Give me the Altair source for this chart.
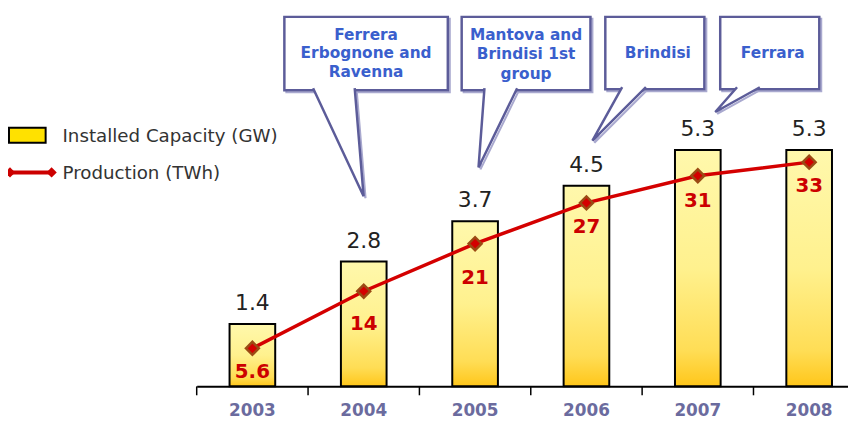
import altair as alt
import pandas as pd

# ---------------- data ----------------
years = ["2003", "2004", "2005", "2006", "2007", "2008"]
capacity_gw = [1.4, 2.8, 3.7, 4.5, 5.3, 5.3]
production_twh = [5.6, 14, 21, 27, 31, 33]
capacity_labels = ["1.4", "2.8", "3.7", "4.5", "5.3", "5.3"]
production_labels = ["5.6", "14", "21", "27", "31", "33"]

legend_labels = ["Installed Capacity (GW)", "Production (TWh)"]
callout_texts = [
    ["Ferrera", "Erbognone and", "Ravenna"],
    ["Mantova and", "Brindisi 1st", "group"],
    ["Brindisi"],
    ["Ferrara"],
]

# ---------------- layout (pixels inside the plot area) ----------------
W, H = 840, 380
X_RANGE = [190.5, 865]
CAP_MAX, PROD_MAX = 8.44, 55.4
PROD_LABEL_SHIFT = [0, 9, 11, 0, 2, 0]   # extra downward pixel shift of red labels
BOXES = [(279, 444, 7, 81), (458, 588, 7, 81), (603, 703, 7, 80), (719, 819, 7, 80)]
TAILS = [
    ((308, 79), (359, 188), (350, 79)),
    ((481, 79), (475, 159), (514, 79)),
    ((620, 78), (590, 132), (644, 78)),
    ((736, 78), (714, 103), (759, 78)),
]
TEXT_POS = [(361.5, [25, 44, 63]), (523, [25, 45, 65]), (656, [44]), (772, [44])]
LEGEND_TEXT_POS = [(55, 127), (55, 165)]

BOX_STROKE = "#5c5c99"
SHADOW = "#a9a9cf"
CALLOUT_BLUE = "#3a5fcd"
RED = "#d40000"

df = pd.DataFrame({
    "year": years,
    "cap": capacity_gw,
    "prod": production_twh,
    "cap_lbl": capacity_labels,
    "prod_lbl": production_labels,
    "shift": PROD_LABEL_SHIFT,
})


def xband(axis=None):
    return alt.X(
        "year:N",
        scale=alt.Scale(range=X_RANGE, paddingInner=0.59, paddingOuter=0.295, round=False),
        axis=axis,
    )


x_axis = alt.Axis(
    title=None, labelAngle=0, labelFont="DejaVu Sans", labelFontSize=17,
    labelFontWeight="bold", labelColor="#6b6b9e", ticks=False,
    domainColor="black", domainWidth=2, labelPadding=16, grid=False,
)

ycap = alt.Y("cap:Q", scale=alt.Scale(domain=[0, CAP_MAX], nice=False, zero=True), axis=None)
yprod = alt.Y("prod:Q", scale=alt.Scale(domain=[0, PROD_MAX], nice=False, zero=True), axis=None)

gradient = alt.Gradient(
    gradient="linear",
    stops=[
        alt.GradientStop(color="#fff8ac", offset=0),
        alt.GradientStop(color="#fff18e", offset=0.5),
        alt.GradientStop(color="#ffdd55", offset=0.85),
        alt.GradientStop(color="#ffc61a", offset=1),
    ],
    x1=0, x2=0, y1=0, y2=1,
)

base = alt.Chart(df)

bars = base.mark_bar(color=gradient, stroke="black", strokeWidth=2).encode(
    x=xband(x_axis), y=ycap
)

ticks = base.mark_rule(color="black", strokeWidth=1.5).encode(
    x=alt.X(
        "year:N",
        scale=alt.Scale(range=X_RANGE, paddingInner=0, paddingOuter=0, round=False),
        bandPosition=0,
        axis=None,
    ),
    y=alt.value(H),
    y2=alt.value(H + 9),
)

cap_text = base.mark_text(
    dy=-14, baseline="alphabetic", fontSize=22, font="DejaVu Sans", color="#222222"
).encode(x=xband(), y=ycap, text="cap_lbl:N")

line = base.mark_line(color=RED, strokeWidth=3.5).encode(x=xband(), y=yprod)
points = base.mark_point(
    shape="diamond", filled=True, color=RED, stroke="#9b4a14",
    strokeWidth=2.5, size=170, opacity=1,
).encode(x=xband(), y=yprod)

prod_text = base.transform_calculate(
    lbl_y=f"datum.prod - datum.shift * {PROD_MAX} / {H}"
).mark_text(
    dy=14, baseline="top", fontSize=20, font="DejaVu Sans", fontWeight="bold", color="#cc0000"
).encode(
    x=xband(),
    y=alt.Y("lbl_y:Q", scale=alt.Scale(domain=[0, PROD_MAX], nice=False, zero=True), axis=None),
    text="prod_lbl:N",
)

# ---------------- legend ----------------
X_ID = lambda f: alt.X(f, scale=None, axis=None)
Y_ID = lambda f: alt.Y(f, scale=None, axis=None)

leg_rect = alt.Chart(pd.DataFrame({"a": [0]})).mark_rect(
    color="#ffe100", stroke="black", strokeWidth=2
).encode(x=alt.value(1), x2=alt.value(38), y=alt.value(119), y2=alt.value(134))

leg_line_df = pd.DataFrame({"px": [2, 44], "py": [164, 164]})
leg_line = alt.Chart(leg_line_df).mark_line(color="#cc0000", strokeWidth=4).encode(
    x=X_ID("px:Q"), y=Y_ID("py:Q")
)
leg_pts = alt.Chart(leg_line_df).mark_point(
    shape="diamond", filled=True, color="#cc0000", size=110, opacity=1
).encode(x=X_ID("px:Q"), y=Y_ID("py:Q"))

leg_text_df = pd.DataFrame({
    "t": legend_labels,
    "px": [p[0] for p in LEGEND_TEXT_POS],
    "py": [p[1] for p in LEGEND_TEXT_POS],
})
leg_text = alt.Chart(leg_text_df).mark_text(
    align="left", baseline="middle", fontSize=18.4, font="DejaVu Sans", color="#333333"
).encode(x=X_ID("px:Q"), y=Y_ID("py:Q"), text="t:N")

# ---------------- callouts ----------------
box_df = pd.DataFrame({
    "x1": [b[0] for b in BOXES], "x2": [b[1] for b in BOXES],
    "y1": [b[2] for b in BOXES], "y2": [b[3] for b in BOXES],
})
shadow_df = box_df + 2

tail_rows = []
for g, tri in enumerate(TAILS):
    for o, (px, py) in enumerate(tri):
        tail_rows.append({"g": g, "o": o, "px": px, "py": py})
tail_df = pd.DataFrame(tail_rows)
tail_shadow_df = tail_df.assign(px=tail_df.px + 2, py=tail_df.py + 2)

text_rows = []
for lines, (cx, ys) in zip(callout_texts, TEXT_POS):
    for t, yy in zip(lines, ys):
        text_rows.append({"t": t, "px": cx, "py": yy})
text_df = pd.DataFrame(text_rows)

box_shadow = alt.Chart(shadow_df).mark_rect(
    fill="white", stroke=SHADOW, strokeWidth=2
).encode(x=X_ID("x1:Q"), x2="x2:Q", y=Y_ID("y1:Q"), y2="y2:Q")

tail_shadow = alt.Chart(tail_shadow_df).mark_line(
    stroke=SHADOW, strokeWidth=2, strokeJoin="miter"
).encode(x=X_ID("px:Q"), y=Y_ID("py:Q"), detail="g:N", order="o:Q")

boxes = alt.Chart(box_df).mark_rect(
    fill="white", stroke=BOX_STROKE, strokeWidth=2.5
).encode(x=X_ID("x1:Q"), x2="x2:Q", y=Y_ID("y1:Q"), y2="y2:Q")

tails = alt.Chart(tail_df).mark_line(
    stroke=BOX_STROKE, strokeWidth=2.5, fill="white", strokeJoin="miter"
).encode(x=X_ID("px:Q"), y=Y_ID("py:Q"), detail="g:N", order="o:Q")

texts = alt.Chart(text_df).mark_text(
    align="center", baseline="middle", fontSize=15.5, font="DejaVu Sans",
    fontWeight="bold", color=CALLOUT_BLUE,
).encode(x=X_ID("px:Q"), y=Y_ID("py:Q"), text="t:N")

chart = alt.layer(
    bars, ticks, cap_text, line, points, prod_text,
    leg_rect, leg_line, leg_pts, leg_text,
    tail_shadow, box_shadow, boxes, tails, texts,
).resolve_scale(x="independent", y="independent").properties(
    width=W, height=H,
    padding={"left": 0, "top": 0, "right": 8, "bottom": 33},
    autosize=alt.AutoSizeParams(type="none"),
    background="white",
).configure_view(stroke=None)

chart.save("out.html", embed_options={"renderer": "svg", "actions": False})
